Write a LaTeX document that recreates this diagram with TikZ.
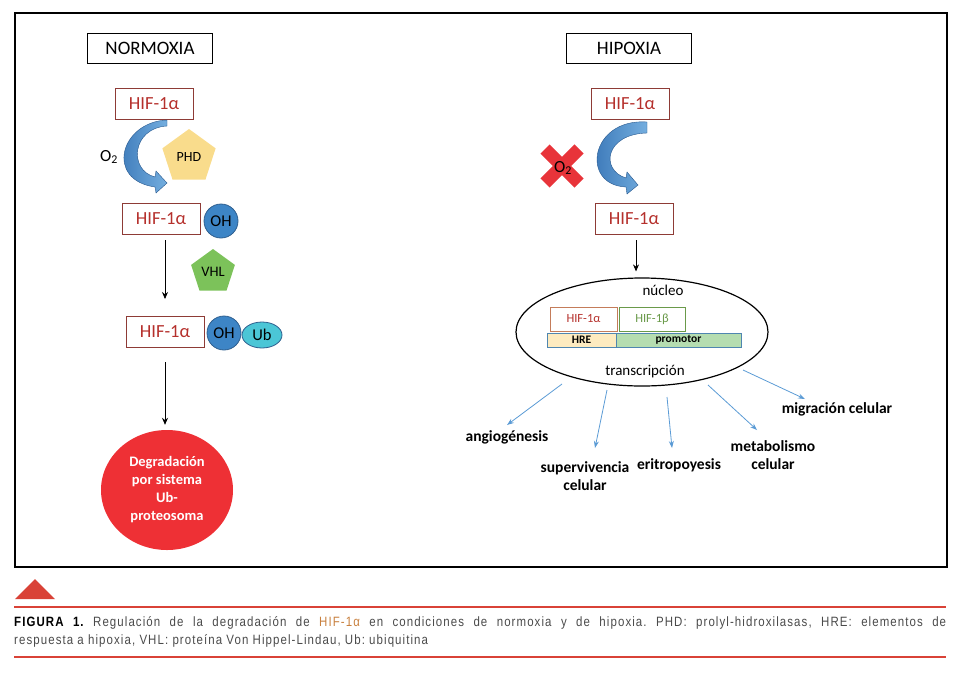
\documentclass[tikz,border=0pt]{standalone}
\usepackage{fontspec}
\setmainfont{Carlito}
\newfontfamily\capfont[FakeStretch=0.85, LetterSpace=8]{Liberation Sans}
\usetikzlibrary{shapes.geometric,arrows.meta}

\definecolor{hifred}{HTML}{B5302C}
\definecolor{hifborder}{HTML}{8E3B36}
\definecolor{ohblue}{HTML}{3D85C6}
\definecolor{ohborder}{HTML}{2F5F8F}
\definecolor{ubcyan}{HTML}{4BC6D6}
\definecolor{phdyellow}{HTML}{F9DC8C}
\definecolor{vhlgreen}{HTML}{7CC25A}
\definecolor{degred}{HTML}{EE3035}
\definecolor{xred}{HTML}{E8343A}
\definecolor{arrdark}{HTML}{2F6DB0}
\definecolor{arrlight}{HTML}{74AEDF}
\definecolor{arrblue}{HTML}{5B9BD5}
\definecolor{alphaborder}{HTML}{C47C5A}
\definecolor{betagreen}{HTML}{6A9A4A}
\definecolor{hreyellow}{HTML}{FDEBC0}
\definecolor{promgreen}{HTML}{B5DDB0}
\definecolor{barborder}{HTML}{4F86B0}
\definecolor{capred}{HTML}{D94237}
\definecolor{capgray}{HTML}{4A4A4A}
\definecolor{caporange}{HTML}{C8803E}

\begin{document}
\frenchspacing
\begin{tikzpicture}[x=1pt, y=-1pt,
  titlebox/.style={draw, line width=0.9pt, minimum width=125pt, minimum height=30pt, font=\fontsize{19}{21}\selectfont},
  hifbox/.style={draw=hifborder, line width=1pt, text=hifred, minimum width=78pt, minimum height=31pt, font=\fontsize{18.5}{20}\selectfont},
  ohball/.style={circle, draw=ohborder, fill=ohblue, line width=0.8pt, minimum size=34pt, inner sep=0pt, font=\fontsize{16.5}{18}\selectfont},
  enzyme/.style={regular polygon, regular polygon sides=5, inner sep=0pt},
  arr/.style={-{Stealth[length=7pt,width=6pt]}, line width=0.8pt},
  bluearr/.style={-{Stealth[length=7pt,width=5pt]}, draw=arrblue, line width=0.8pt},
  outcome/.style={font=\bfseries\fontsize{15.5}{18}\selectfont, align=center},
  bigarrow/.style={left color=arrdark, right color=arrlight, draw=arrdark!80!black, line width=0.4pt}]

\useasboundingbox (0,0) rectangle (958,673);
\draw[line width=1.2pt] (15,13) rectangle (947,567);

% normoxia
\node[titlebox] (normoxia) at (150,48) {NORMOXIA};
\node[hifbox] (hif1) at (154,104) {HIF-1α};
\path[bigarrow] (167,120) .. controls (120,122) and (105,180) .. (155,187)
  -- (156,193) -- (167,183) -- (156,171) -- (155,177)
  .. controls (128,170) and (132,128) .. (167,126) -- cycle;
\node[font=\fontsize{17}{18}\selectfont] (o2) at (109,157) {O\textsubscript{2}};
\node[enzyme, fill=phdyellow, minimum size=56pt, font=\fontsize{14}{15}\selectfont] (phd) at (189,157) {PHD};
\node[hifbox] (hif2) at (161,219) {HIF-1α};
\node[ohball] (oh1) at (221,221) {OH};
\node[enzyme, fill=vhlgreen, minimum size=46pt, font=\fontsize{14.5}{16}\selectfont] (vhl) at (213,272) {VHL};
\node[hifbox] (hif3) at (165,332) {HIF-1α};
\node[ohball] (oh2) at (224,333) {OH};
\node[ellipse, draw=ohborder, fill=ubcyan, line width=0.8pt, minimum width=40pt, minimum height=26pt, inner sep=0pt, font=\fontsize{16.5}{18}\selectfont] (ub) at (262,335) {Ub};
\node[ellipse, fill=degred, minimum width=132pt, minimum height=120pt, text=white, align=center, font=\bfseries\fontsize{14.5}{18}\selectfont] (deg) at (167,490) {Degradación\\por sistema\\Ub-\\proteosoma};

\draw[arr, shorten <=5pt, shorten >=17pt] (hif2.south -| hif3) -- (hif3.north);
\draw[arr, shorten <=14pt, shorten >=5pt] (hif3.south) -- (hif3.south |- deg.north);

% hipoxia
\node[titlebox] (hipoxia) at (629,48) {HIPOXIA};
\node[hifbox] (hifr1) at (630,104) {HIF-1α};
\path[bigarrow] (647,122) .. controls (590,118) and (580,185) .. (626,187)
  -- (627,194) -- (638,185) -- (627,172) -- (626,178)
  .. controls (600,170) and (605,134) .. (647,133) -- cycle;
\draw[xred, line width=13pt] (545,149) -- (579,183);
\draw[xred, line width=13pt] (579,149) -- (545,183);
\node[font=\fontsize{17}{18}\selectfont] (o2x) at (563,168) {O\textsubscript{2}};
\node[hifbox] (hifr2) at (634,219) {HIF-1α};

\node[ellipse, draw, line width=1.2pt, minimum width=252pt, minimum height=108pt] (nuc) at (642,332) {};
\draw[arr, shorten <=5pt, shorten >=6pt] (hifr2.south -| 636,0) -- (nuc.north -| 636,0);
\node[font=\fontsize{15}{16}\selectfont] (nucleo) at (663,290) {núcleo};
\node[draw=alphaborder, line width=0.8pt, text=hifred, minimum width=67pt, minimum height=24pt, inner sep=0pt, font=\fontsize{12.5}{14}\selectfont] (alpha) at (583.5,319) {HIF-1α};
\node[draw=betagreen, line width=0.8pt, text=betagreen, minimum width=66pt, minimum height=24pt, inner sep=0pt, font=\fontsize{12.5}{14}\selectfont] (beta) at (652,319) {HIF-1β};
\node[draw=barborder, fill=hreyellow, line width=0.8pt, minimum width=69pt, minimum height=14pt, inner sep=0pt, font=\bfseries\fontsize{11.5}{12}\selectfont] (hre) at (581.5,340) {HRE};
\node[draw=barborder, fill=promgreen, line width=0.8pt, minimum width=125pt, minimum height=14pt, inner sep=0pt, font=\bfseries\fontsize{11.5}{12}\selectfont] (prom) at (678.5,340) {promotor};
\node[font=\fontsize{15}{16}\selectfont] (transc) at (645,372) {transcripción};

\node[outcome] (angio) at (507,437) {angiogénesis};
\node[outcome] (superv) at (585,476) {supervivencia\\celular};
\node[outcome] (eritro) at (679,465) {eritropoyesis};
\node[outcome] (metab) at (773,455) {metabolismo\\celular};
\node[outcome] (migra) at (837,409) {migración celular};

\coordinate (s1) at (562,384);
\coordinate (s2) at (607,390);
\coordinate (s3) at (667,397);
\coordinate (s4) at (708,385);
\coordinate (s5) at (743,370);
\draw[bluearr] (s1) -- (507,425);
\draw[bluearr] (s2) -- (595,448);
\draw[bluearr] (s3) -- (672,448);
\draw[bluearr] (s4) -- (757,430);
\draw[bluearr] (s5) -- (805,399);

% caption
\fill[capred] (15,599) -- (35,579) -- (55,599) -- cycle;
\draw[capred, line width=1.2pt] (14,607) -- (946,607);
\node[anchor=north west, text width=932pt, align=justify, inner sep=0pt, text=capgray, font=\capfont\fontsize{13.5}{18}\selectfont] (caption) at (14,616)
  {{\bfseries\color{black}FIGURA 1.} Regulación de la degradación de {\color{caporange}HIF-1α} en condiciones de normoxia y de hipoxia. PHD: prolyl-hidroxilasas, HRE: elementos de\linebreak respuesta a hipoxia, VHL: proteína Von Hippel-Lindau, Ub: ubiquitina};
\draw[capred, line width=1.2pt] (14,657) -- (946,657);

\end{tikzpicture}
\end{document}
